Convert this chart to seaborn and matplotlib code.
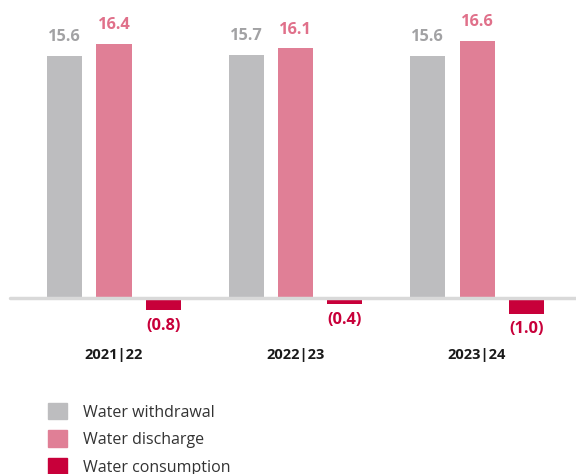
import pandas as pd
import matplotlib.pyplot as plt
import seaborn as sns

# Data (million m3)
years = ['2021|22', '2022|23', '2023|24']
withdrawal = [15.6, 15.7, 15.6]
discharge = [16.4, 16.1, 16.6]
consumption = [-0.8, -0.4, -1.0]

series_names = ['Water withdrawal', 'Water discharge', 'Water consumption']
colors = ['#BDBDBF', '#E07F96', '#C8003A']
label_colors = ['#A2A2A4', '#E0708A', '#C8003A']

df = pd.DataFrame({
    'year': years * 3,
    'series': [s for s in series_names for _ in years],
    'value': withdrawal + discharge + consumption,
})

sns.set_style('white')
plt.rcParams['font.family'] = ['Open Sans', 'DejaVu Sans']

fig = plt.figure(figsize=(5.76, 4.74), dpi=100)
ax = fig.add_axes([0, 0, 1, 1])

sns.barplot(data=df, x='year', y='value', hue='series', palette=colors,
            width=0.816, gap=0.29, ax=ax, legend=False, saturation=1,
            linewidth=0, edgecolor='none')

# pixel-based scaling: baseline at 298px from top, ~15.5px per unit
ax.set_xlim(-0.628, 2.545)
ax.set_ylim(-176 / 15.5, 298 / 15.5)
ax.axhline(0, xmin=10 / 576, xmax=1, color='#D9D9D9', lw=2.5, zorder=5)
ax.axis('off')

# value labels
for container, lc in zip(ax.containers, label_colors):
    for bar in container:
        v = bar.get_height()
        x = bar.get_x() + bar.get_width() / 2
        if v >= 0:
            ax.text(x, v + 0.7, f'{v:.1f}', ha='center', va='bottom',
                    color=lc, fontsize=11.8, fontweight='bold')
        else:
            ax.text(x, v - 0.5, f'({abs(v):.1f})', ha='center', va='top',
                    color=lc, fontsize=11.8, fontweight='bold')

# year labels
for i, y in enumerate(years):
    ax.text(i, -3.7, y, ha='center', va='center', fontsize=10.5,
            fontweight='bold', color='#1A1A1A')

# legend
handles = [plt.Rectangle((0, 0), 1, 1, color=c) for c in colors]
fig.legend(handles, series_names, loc='upper left',
           bbox_to_anchor=(40 / 576, 1 - 395 / 474), frameon=False,
           fontsize=11.5, handlelength=1.2, handleheight=1.2,
           handletextpad=1.0, labelspacing=0.62, borderpad=0,
           labelcolor='#333333')

plt.savefig('out.png', dpi=100)
